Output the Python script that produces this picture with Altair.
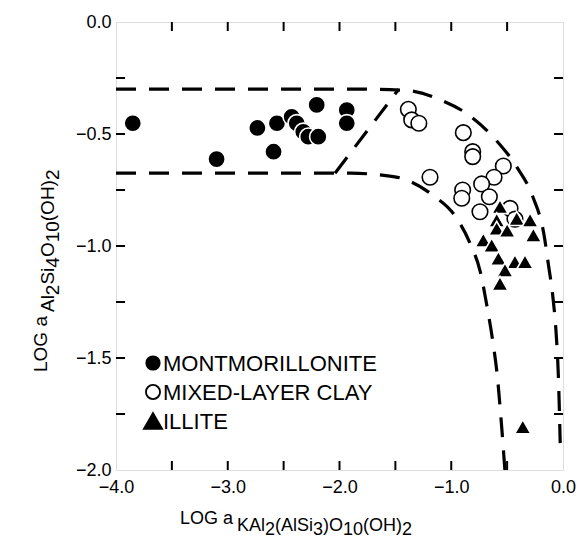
import altair as alt
import pandas as pd

# ---------------- data ----------------
mont_x = [-3.85, -3.10, -2.735, -2.56, -2.59, -2.428, -2.383, -2.324, -2.279, -2.19, -2.204, -1.935, -1.935]
mont_y = [-0.452, -0.612, -0.473, -0.452, -0.579, -0.423, -0.452, -0.49, -0.512, -0.512, -0.37, -0.393, -0.452]

mixed_x = [-1.384, -1.354, -1.29, -0.892, -0.808, -0.808, -1.19, -0.534, -0.617, -0.728,
           -0.898, -0.906, -0.659, -0.743, -0.474, -0.43]
mixed_y = [-0.39, -0.437, -0.452, -0.494, -0.579, -0.601, -0.693, -0.643, -0.693, -0.723,
           -0.75, -0.787, -0.78, -0.847, -0.832, -0.88]

illite_x = [-0.564, -0.593, -0.593, -0.414, -0.295, -0.265, -0.713, -0.638, -0.578, -0.43,
            -0.34, -0.519, -0.564, -0.36, -0.50]
illite_y = [-0.824, -0.884, -0.921, -0.877, -0.884, -0.951, -0.973, -0.996, -1.055, -1.07,
            -1.07, -1.107, -1.167, -1.807, -0.93]

upper_x = [-4.0, -1.8, -1.41, -1.11, -0.83, -0.60, -0.41, -0.27, -0.17, -0.13, -0.09, -0.06, -0.04, -0.03, -0.025]
upper_y = [-0.30, -0.30, -0.305, -0.345, -0.42, -0.527, -0.65, -0.78, -0.95, -1.085, -1.23, -1.40, -1.60, -1.78, -1.88]

lower_x = [-4.0, -1.9, -1.6, -1.43, -1.16, -0.97, -0.83, -0.74, -0.68, -0.63, -0.59, -0.55, -0.52]
lower_y = [-0.675, -0.675, -0.685, -0.70, -0.775, -0.863, -0.99, -1.115, -1.27, -1.42, -1.57, -1.80, -2.0]

diag_x = [-2.04, -1.47]
diag_y = [-0.675, -0.30]

x_label_values = [-4.0, -3.0, -2.0, -1.0, 0.0]
y_label_values = [0.0, -0.5, -1.0, -1.5, -2.0]
x_tick_values = [-3.5, -3.0, -2.5, -2.0, -1.5, -1.0, -0.5]
y_tick_values = [-0.25, -0.5, -0.75, -1.0, -1.25, -1.5, -1.75]

types = ["MONTMORILLONITE", "MIXED-LAYER CLAY", "ILLITE"]

# axis-title segments: (text, level) 0 = main, 1 = subscript, 2 = subscript digits
x_title_segs = [("LOG a", 0), ("KAl", 1), ("2", 2), ("(AlSi", 1), ("3", 2), (")O", 1),
                ("10", 2), ("(OH)", 1), ("2", 2)]
y_title_segs = [("LOG a", 0), ("Al", 1), ("2", 2), ("Si", 1), ("4", 2), ("O", 1),
                ("10", 2), ("(OH)", 1), ("2", 2)]

# ---------------- layout ----------------
W, H = 447, 448
FONT = "Liberation Sans"
TSX = 18   # x-title font size
TSY = 19   # y-title font size
TICK = 9
TRI = "M-1.2,1.04L1.2,1.04L0,-1.04Z"

CW = {'L': 556, 'O': 778, 'G': 778, ' ': 278, 'a': 556, 'K': 667, 'A': 667, 'l': 222,
      '(': 333, ')': 333, 'S': 667, 'i': 222, 'H': 722}


def text_width(s, size):
    return sum(CW.get(c, 556) for c in s) * size / 1000.0


xs = alt.Scale(domain=[-4, 0], nice=False, zero=False)
ys = alt.Scale(domain=[-2, 0], nice=False, zero=False)

x_axis = alt.Axis(values=x_label_values, format=".1f", ticks=False, domain=False, grid=False,
                  labelFontSize=18, labelFont=FONT, labelColor="black", labelPadding=8,
                  labelFlush=False, labelOverlap=False, title=None)
y_axis = alt.Axis(values=y_label_values, format=".1f", ticks=False, domain=False, grid=False,
                  labelFontSize=18, labelFont=FONT, labelColor="black", labelPadding=5,
                  labelFlush=False, labelOverlap=False, title=None)

pts = pd.DataFrame({
    "x": mont_x + mixed_x + illite_x,
    "y": mont_y + mixed_y + illite_y,
    "type": [types[0]] * len(mont_x) + [types[1]] * len(mixed_x) + [types[2]] * len(illite_x),
})

points = alt.Chart(pts).mark_point(filled=True, strokeWidth=1.6, opacity=1,
                                    fillOpacity=1, strokeOpacity=1).encode(
    x=alt.X("x:Q", scale=xs, axis=x_axis),
    y=alt.Y("y:Q", scale=ys, axis=y_axis),
    shape=alt.Shape("type:N", scale=alt.Scale(domain=types, range=["circle", "circle", TRI]), legend=None),
    fill=alt.Fill("type:N", scale=alt.Scale(domain=types, range=["black", "white", "black"]), legend=None),
    stroke=alt.Stroke("type:N", scale=alt.Scale(domain=types, range=["white", "black", "white"]), legend=None),
    size=alt.Size("type:N", scale=alt.Scale(domain=types, range=[300, 185, 280]), legend=None),
)

rows = []
for g, (lx, ly) in enumerate([(upper_x, upper_y), (lower_x, lower_y), (diag_x, diag_y)]):
    for i, (a, b) in enumerate(zip(lx, ly)):
        rows.append({"x": a, "y": b, "grp": g, "ord": i})
lines_df = pd.DataFrame(rows)

lines = alt.Chart(lines_df).mark_line(color="black", strokeWidth=3.2, strokeDash=[20, 13],
                                      interpolate="monotone").encode(
    x=alt.X("x:Q", scale=xs, axis=x_axis),
    y=alt.Y("y:Q", scale=ys, axis=y_axis),
    detail="grp:N",
    order="ord:Q",
)

xt = pd.DataFrame({"x": x_tick_values})
yt = pd.DataFrame({"y": y_tick_values})
rule_style = dict(color="black", strokeWidth=2)
tick_bottom = alt.Chart(xt).mark_rule(**rule_style).encode(
    x=alt.X("x:Q", scale=xs, axis=x_axis), y=alt.value(H), y2=alt.value(H - TICK))
tick_top = alt.Chart(xt).mark_rule(**rule_style).encode(
    x=alt.X("x:Q", scale=xs, axis=x_axis), y=alt.value(0), y2=alt.value(TICK))
tick_left = alt.Chart(yt).mark_rule(**rule_style).encode(
    y=alt.Y("y:Q", scale=ys, axis=y_axis), x=alt.value(0), x2=alt.value(TICK))
tick_right = alt.Chart(yt).mark_rule(**rule_style).encode(
    y=alt.Y("y:Q", scale=ys, axis=y_axis), x=alt.value(W), x2=alt.value(W - TICK))

# ---------------- legend (drawn by hand) ----------------
legend_layers = []
leg_sym = [
    dict(shape="circle", fill="black", stroke="white", size=290),
    dict(shape="circle", fill="white", stroke="black", size=200),
    dict(shape=TRI, fill="black", stroke="black", size=230),
]
leg_x, leg_y0, leg_dy = 37, 341, 29
for i, (t, sym) in enumerate(zip(types, leg_sym)):
    legend_layers.append(
        alt.Chart(pd.DataFrame({"t": [t]})).mark_point(
            filled=True, opacity=1, strokeWidth=1.8, **sym
        ).encode(x=alt.value(leg_x), y=alt.value(leg_y0 + i * leg_dy))
    )
    legend_layers.append(
        alt.Chart(pd.DataFrame({"t": [t]})).mark_text(
            align="left", baseline="middle", font=FONT, fontSize=22, color="black"
        ).encode(text="t:N", x=alt.value(leg_x + 10), y=alt.value(leg_y0 + i * leg_dy + 1))
    )

# ---------------- axis titles (text with subscripts) ----------------
title_layers = []
x0 = 64
base = {0: 502, 1: 509, 2: 513}
cur = x0
for i, (s, lvl) in enumerate(x_title_segs):
    title_layers.append(
        alt.Chart(pd.DataFrame({"t": [s]})).mark_text(
            align="left", baseline="alphabetic", font=FONT, fontSize=TSX, color="black"
        ).encode(text="t:N", x=alt.value(cur), y=alt.value(base[lvl]))
    )
    cur += text_width(s, TSX) + (4 if i == 0 else 0)

y0 = 350
xbase = {0: -69, 1: -62, 2: -57}
cur = 0
for i, (s, lvl) in enumerate(y_title_segs):
    title_layers.append(
        alt.Chart(pd.DataFrame({"t": [s]})).mark_text(
            align="left", baseline="alphabetic", font=FONT, fontSize=TSY, color="black", angle=270
        ).encode(text="t:N", x=alt.value(xbase[lvl]), y=alt.value(y0 - cur))
    )
    cur += text_width(s, TSY) + (4 if i == 0 else 0)

chart = alt.layer(lines, tick_bottom, tick_top, tick_left, tick_right, points,
                  *legend_layers, *title_layers).properties(
    width=W, height=H,
    padding={"left": 116, "top": 22, "right": 18, "bottom": 70},
    autosize=alt.AutoSizeParams(type="none"),
).configure_view(stroke="black", strokeWidth=2).configure(background="white")

chart.save("out.html", embed_options={"renderer": "svg", "actions": False})
